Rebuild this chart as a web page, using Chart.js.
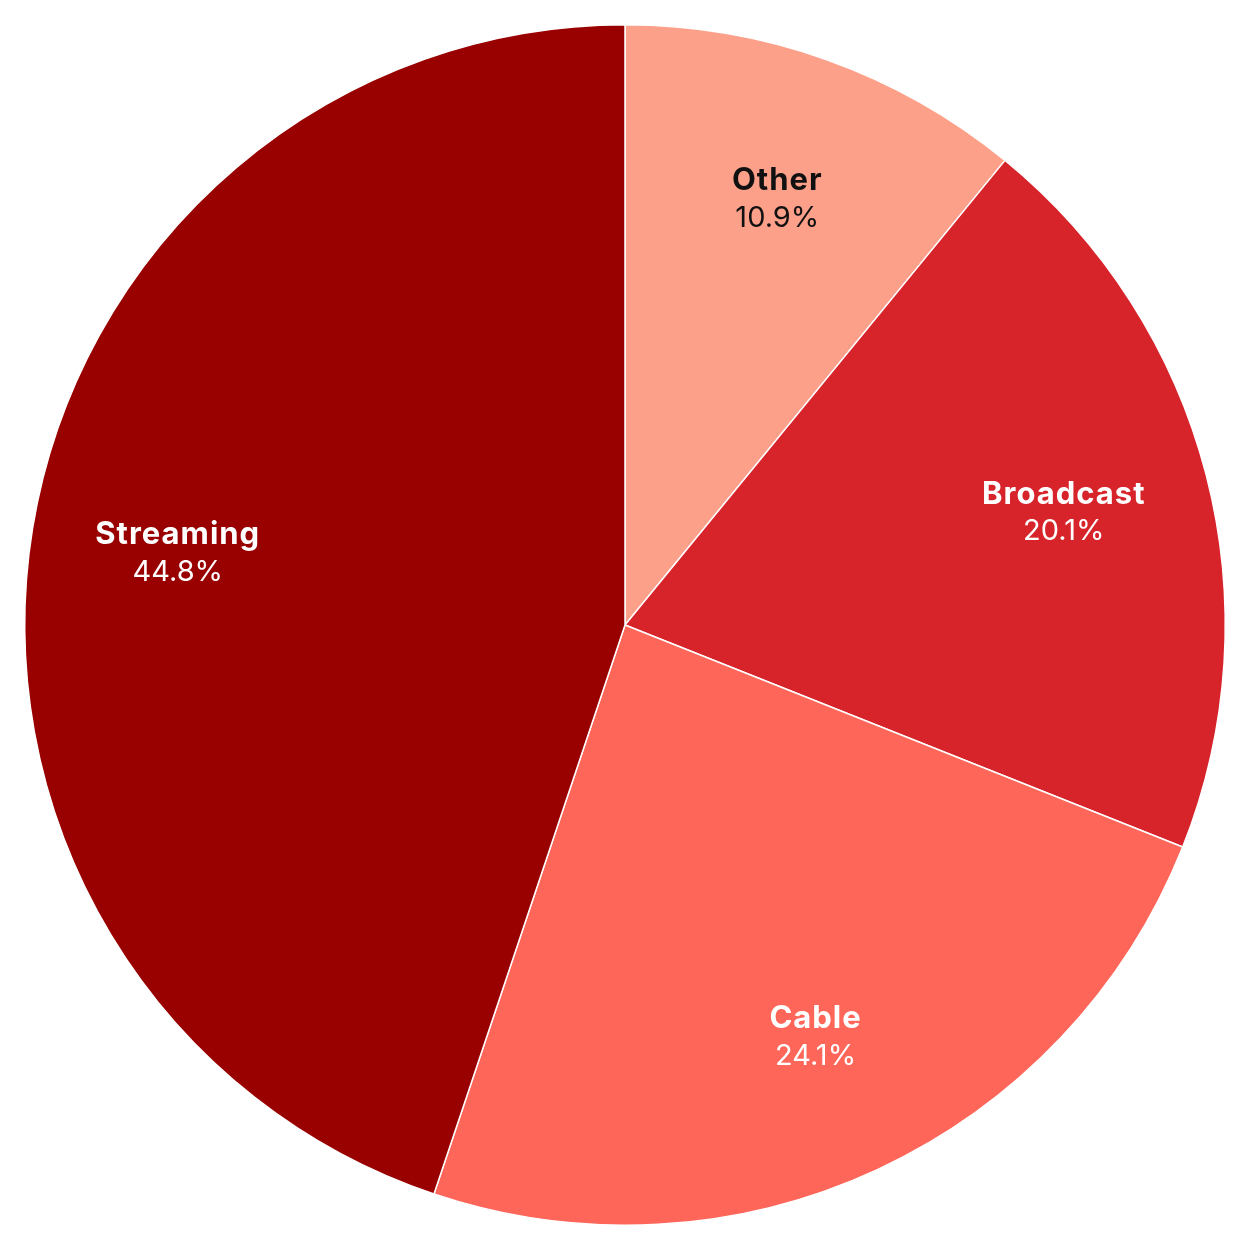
<!DOCTYPE html>
<html><head><meta charset="utf-8">
<script src="https://cdn.jsdelivr.net/npm/chart.js@4/dist/chart.umd.min.js"></script>
<style>html,body{margin:0;padding:0;background:#fff}#wrap{width:1250px;height:1250px}</style>
</head><body><div id="wrap"><canvas id="c" width="1250" height="1250"></canvas></div>
<script>
const categories = ["Other", "Broadcast", "Cable", "Streaming"];
const shares = [10.9, 20.1, 24.1, 44.8];
const sliceColors = ["#fca08a", "#d7232a", "#fe6659", "#990000"];
const labelColors = ["#111111", "#ffffff", "#ffffff", "#ffffff"];

const labelPlugin = {
  id: 'sliceLabels',
  afterDatasetsDraw(chart) {
    const ctx = chart.ctx;
    const meta = chart.getDatasetMeta(0);
    meta.data.forEach((arc, i) => {
      const p = arc.getProps(['x','y','startAngle','endAngle','outerRadius'], true);
      const mid = (p.startAngle + p.endAngle) / 2;
      const r = p.outerRadius * 0.755;
      const x = p.x + Math.cos(mid) * r;
      const y = p.y + Math.sin(mid) * r;
      ctx.save();
      ctx.textAlign = 'center';
      ctx.textBaseline = 'middle';
      ctx.fillStyle = labelColors[i];
      ctx.font = 'bold 31px Inter';
      ctx.letterSpacing = '1px';
      ctx.fillText(categories[i], x, y - 17);
      ctx.font = '29px Inter';
      ctx.letterSpacing = '0px';
      ctx.fillText(shares[i].toFixed(1) + '%', x, y + 20);
      ctx.restore();
    });
  }
};

new Chart(document.getElementById('c'), {
  type: 'pie',
  data: {
    labels: categories,
    datasets: [{ data: shares, backgroundColor: sliceColors, borderColor: '#ffffff', borderWidth: 1.5 }]
  },
  options: {
    responsive: false,
    animation: false,
    layout: { padding: 24 },
    plugins: { legend: { display: false }, tooltip: { enabled: false } }
  },
  plugins: [labelPlugin]
});
</script></body></html>
